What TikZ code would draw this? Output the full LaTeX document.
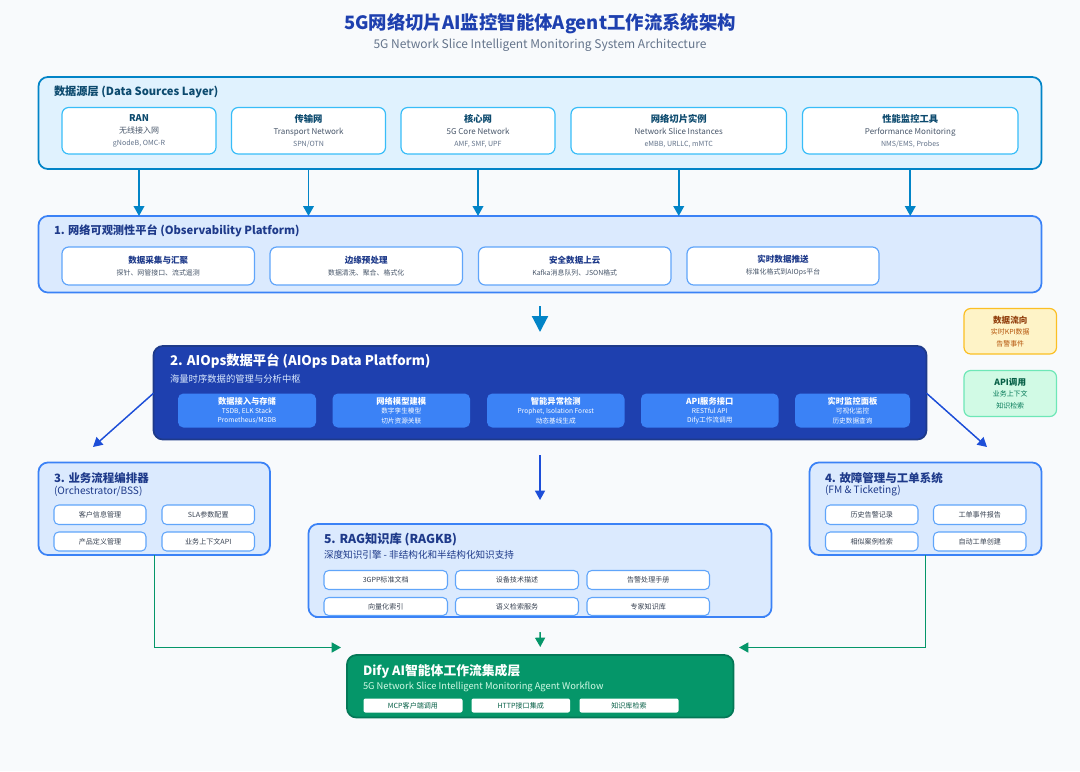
\documentclass[tikz,border=0pt]{standalone}
\usepackage{fontspec}
\setmainfont{Noto Sans CJK SC}
\usetikzlibrary{arrows.meta}
\definecolor{bgc}{HTML}{F8FAFC}
\definecolor{titleblue}{HTML}{1E40AF}
\definecolor{subgray}{HTML}{64748B}
\definecolor{dsfill}{HTML}{E0F2FE}
\definecolor{dsborder}{HTML}{0284C7}
\definecolor{dsinner}{HTML}{38BDF8}
\definecolor{dstext}{HTML}{0C4A6E}
\definecolor{bfill}{HTML}{DBEAFE}
\definecolor{bborder}{HTML}{3B82F6}
\definecolor{binner}{HTML}{60A5FA}
\definecolor{btext}{HTML}{1E3A8A}
\definecolor{aifill}{HTML}{1E40AF}
\definecolor{aiborder}{HTML}{1E3A8A}
\definecolor{aiinner}{HTML}{3B82F6}
\definecolor{aisub}{HTML}{DBEAFE}
\definecolor{darkgray}{HTML}{475569}
\definecolor{midgray}{HTML}{64748B}
\definecolor{boxtext}{HTML}{374151}
\definecolor{amberfill}{HTML}{FEF3C7}
\definecolor{amberborder}{HTML}{FBBF24}
\definecolor{ambertitle}{HTML}{92400E}
\definecolor{ambertext}{HTML}{B45309}
\definecolor{mintfill}{HTML}{D1FAE5}
\definecolor{mintborder}{HTML}{6EE7B7}
\definecolor{minttitle}{HTML}{065F46}
\definecolor{minttext}{HTML}{047857}
\definecolor{green}{HTML}{059669}
\definecolor{greendark}{HTML}{047857}
\definecolor{diflight}{HTML}{D1FAE5}
\definecolor{arrowblue}{HTML}{1D4ED8}
\newcommand{\fs}[2]{\fontsize{#1}{#2}\selectfont}
% \rbox{name}{x1}{y1}{x2}{y2}{style}{text}
\newcommand{\rbox}[7]{\node[#6, minimum width={(#4-#2)*0.75pt}, minimum height={(#5-#3)*0.75pt}] (#1) at ({(#2+#4)/2},{(#3+#5)/2}) {#7};}
\begin{document}
\begin{tikzpicture}[x=0.75pt,y=-0.75pt,
  container/.style={draw, rounded corners=7pt, line width=1.3pt, inner sep=0pt, outer sep=0pt},
  dslayer/.style={container, fill=dsfill, draw=dsborder},
  blayer/.style={container, fill=bfill, draw=bborder},
  ailayer/.style={container, fill=aifill, draw=aiborder},
  diflayer/.style={container, fill=green, draw=greendark},
  dsbox/.style={draw=dsinner, fill=white, rounded corners=5pt, line width=0.9pt, inner sep=0pt, align=center, font=\fs{6}{9}},
  obsbox/.style={draw=binner, fill=white, rounded corners=5pt, line width=0.9pt, inner sep=0pt, align=center, font=\fs{6}{9}},
  aibox/.style={fill=aiinner, rounded corners=4pt, inner sep=0pt, align=center, text=white, font=\fs{5}{6.9}},
  smallbox/.style={draw=binner, fill=white, rounded corners=3.5pt, line width=0.8pt, inner sep=0pt, align=center, text=boxtext, font=\fs{5.3}{7}},
  difbox/.style={fill=white, rounded corners=1.5pt, inner sep=0pt, align=center, text=minttitle, font=\fs{5.3}{7}},
  legamber/.style={draw=amberborder, fill=amberfill, rounded corners=5pt, line width=0.9pt, inner sep=0pt, align=center, font=\fs{5.2}{8.6}},
  legmint/.style={draw=mintborder, fill=mintfill, rounded corners=5pt, line width=0.9pt, inner sep=0pt, align=center, font=\fs{5.2}{8.6}},
  lbl/.style={inner sep=0pt, outer sep=0pt, anchor=west},
  skyarrow/.style={draw=dsborder, line width=1.3pt, -{Triangle[length=7.5pt,width=8pt]}},
  bluearrow/.style={draw=arrowblue, line width=1.1pt, -{Triangle[length=7pt,width=7.5pt]}},
  bigarrow/.style={draw=dsborder, line width=1.6pt, -{Triangle[length=12pt,width=12pt]}},
  greenarrow/.style={draw=green, line width=1.1pt, -{Triangle[length=7pt,width=7.5pt]}}
]
\fill[bgc] (0,0) rectangle (1080,771);
\useasboundingbox (0,0) rectangle (1080,771);

% ---------- Title ----------
\node[inner sep=0pt, text=titleblue, font=\fs{13.8}{16}\bfseries] (title) at (540,24) {5G网络切片AI监控智能体Agent工作流系统架构};
\node[inner sep=0pt, text=subgray, font=\fs{9}{11}] (subtitle) at (540,45.5) {5G Network Slice Intelligent Monitoring System Architecture};

% ---------- Data Sources Layer ----------
\rbox{dsl}{38.5}{77}{1041.5}{169}{dslayer}{}
\node[lbl, text=dstext, font=\fs{8.4}{10}\bfseries] (dsltitle) at (54,92) {数据源层 (Data Sources Layer)};
\rbox{ran}{62}{107.5}{216}{154}{dsbox}{{\fs{7}{9}\bfseries\color{dstext}RAN}\\{\fs{6}{9}\color{darkgray}无线接入网}\\{\fs{5.3}{9}\color{midgray}gNodeB, OMC-R}}
\rbox{trans}{231.5}{107.5}{385.5}{154}{dsbox}{{\fs{7}{9}\bfseries\color{dstext}传输网}\\{\fs{6}{9}\color{darkgray}Transport Network}\\{\fs{5.3}{9}\color{midgray}SPN/OTN}}
\rbox{core}{401}{107.5}{555}{154}{dsbox}{{\fs{7}{9}\bfseries\color{dstext}核心网}\\{\fs{6}{9}\color{darkgray}5G Core Network}\\{\fs{5.3}{9}\color{midgray}AMF, SMF, UPF}}
\rbox{slice}{571}{107.5}{786.5}{154}{dsbox}{{\fs{7}{9}\bfseries\color{dstext}网络切片实例}\\{\fs{6}{9}\color{darkgray}Network Slice Instances}\\{\fs{5.3}{9}\color{midgray}eMBB, URLLC, mMTC}}
\rbox{perf}{802.5}{107.5}{1018}{154}{dsbox}{{\fs{7}{9}\bfseries\color{dstext}性能监控工具}\\{\fs{6}{9}\color{darkgray}Performance Monitoring}\\{\fs{5.3}{9}\color{midgray}NMS/EMS, Probes}}

% ---------- Observability Platform ----------
\rbox{obs}{38.5}{216}{1041.5}{292.5}{blayer}{}
\node[lbl, text=btext, font=\fs{8.4}{10}\bfseries] (obstitle) at (54,231) {1. 网络可观测性平台 (Observability Platform)};
\rbox{obs1}{62}{247}{254.5}{285}{obsbox}{{\fs{6.4}{9}\bfseries\color{btext}数据采集与汇聚}\\{\fs{5.2}{9}\color{darkgray}探针、网管接口、流式遥测}}
\rbox{obs2}{270}{247}{462.5}{285}{obsbox}{{\fs{6.4}{9}\bfseries\color{btext}边缘预处理}\\{\fs{5.2}{9}\color{darkgray}数据清洗、聚合、格式化}}
\rbox{obs3}{478.5}{247}{671}{285}{obsbox}{{\fs{6.4}{9}\bfseries\color{btext}安全数据上云}\\{\fs{5.2}{9}\color{darkgray}Kafka消息队列、JSON格式}}
\rbox{obs4}{687}{247}{879}{285}{obsbox}{{\fs{6.4}{9}\bfseries\color{btext}实时数据推送}\\{\fs{5.2}{9}\color{darkgray}标准化格式到AIOps平台}}

% data source -> observability arrows
\draw[skyarrow] (ran.south |- dsl.south) -- (ran.south |- obs.north);
\draw[skyarrow] (trans.south |- dsl.south) -- (trans.south |- obs.north);
\draw[skyarrow] (core.south |- dsl.south) -- (core.south |- obs.north);
\draw[skyarrow] (slice.south |- dsl.south) -- (slice.south |- obs.north);
\draw[skyarrow] (perf.south |- dsl.south) -- (perf.south |- obs.north);

% ---------- AIOps Data Platform ----------
\rbox{aiops}{153.5}{346}{926.5}{439.5}{ailayer}{}
\node[lbl, text=white, font=\fs{10}{12}\bfseries] (aititle) at (170,361) {2. AIOps数据平台 (AIOps Data Platform)};
\node[lbl, text=aisub, font=\fs{7}{9}] (aisubtitle) at (170,379) {海量时序数据的管理与分析中枢};
\rbox{ai1}{178}{393.5}{316}{427.5}{aibox}{{\fs{6.2}{6.9}\bfseries 数据接入与存储}\\{\fs{5}{6.9}TSDB, ELK Stack}\\{\fs{5}{6.9}Prometheus/M3DB}}
\rbox{ai2}{332.5}{393.5}{470}{427.5}{aibox}{{\fs{6.2}{6.9}\bfseries 网络模型建模}\\{\fs{5}{6.9}数字孪生模型}\\{\fs{5}{6.9}切片资源关联}}
\rbox{ai3}{487}{393.5}{624.5}{427.5}{aibox}{{\fs{6.2}{6.9}\bfseries 智能异常检测}\\{\fs{5}{6.9}Prophet, Isolation Forest}\\{\fs{5}{6.9}动态基线生成}}
\rbox{ai4}{641}{393.5}{778.5}{427.5}{aibox}{{\fs{6.2}{6.9}\bfseries API服务接口}\\{\fs{5}{6.9}RESTful API}\\{\fs{5}{6.9}Dify工作流调用}}
\rbox{ai5}{795}{393.5}{910}{427.5}{aibox}{{\fs{6.2}{6.9}\bfseries 实时监控面板}\\{\fs{5}{6.9}可视化监控}\\{\fs{5}{6.9}历史数据查询}}

% big arrow obs -> aiops
\coordinate (bigstart) at (540,306);
\draw[bigarrow] (bigstart) -- ([yshift=10.5pt]aiops.north);

% ---------- Legends ----------
\rbox{legflow}{964}{308.5}{1056.5}{354}{legamber}{{\fs{6.4}{8.6}\bfseries\color{ambertitle}数据流向}\\{\fs{5.2}{8.6}\color{ambertext}实时KPI数据}\\{\fs{5.2}{8.6}\color{ambertext}告警事件}}
\rbox{legapi}{964}{370.5}{1056.5}{416.5}{legmint}{{\fs{6.4}{8.6}\bfseries\color{minttitle}API调用}\\{\fs{5.2}{8.6}\color{minttext}业务上下文}\\{\fs{5.2}{8.6}\color{minttext}知识检索}}

% ---------- Orchestrator ----------
\rbox{orch}{38.5}{462.5}{270}{555}{blayer}{}
\node[lbl, text=btext, font=\fs{8.6}{10}\bfseries] (orchtitle) at (54,478.5) {3. 业务流程编排器};
\node[lbl, text=btext, font=\fs{7.6}{9}] (orchsub) at (54,491) {(Orchestrator/BSS)};
\rbox{or1}{54}{505}{146}{524.5}{smallbox}{客户信息管理}
\rbox{or2}{162}{505}{254.5}{524.5}{smallbox}{SLA参数配置}
\rbox{or3}{54}{532}{146}{551}{smallbox}{产品定义管理}
\rbox{or4}{162}{532}{254.5}{551}{smallbox}{业务上下文API}

% ---------- Fault management ----------
\rbox{fm}{809.5}{462.5}{1041.5}{555}{blayer}{}
\node[lbl, text=btext, font=\fs{8.6}{10}\bfseries] (fmtitle) at (825,478.5) {4. 故障管理与工单系统};
\node[lbl, text=btext, font=\fs{7.6}{9}] (fmsub) at (825,491) {(FM \& Ticketing)};
\rbox{fm1}{825.5}{505}{918}{524.5}{smallbox}{历史告警记录}
\rbox{fm2}{933.5}{505}{1026}{524.5}{smallbox}{工单事件报告}
\rbox{fm3}{825.5}{532}{918}{551}{smallbox}{相似案例检索}
\rbox{fm4}{933.5}{532}{1026}{551}{smallbox}{自动工单创建}

% ---------- RAGKB ----------
\rbox{rag}{308.5}{524}{771.5}{617}{blayer}{}
\node[lbl, text=btext, font=\fs{9.2}{11}\bfseries] (ragtitle) at (324,539.5) {5. RAG知识库 (RAGKB)};
\node[lbl, text=btext, font=\fs{7.2}{9}] (ragsub) at (324,555) {深度知识引擎 - 非结构化和半结构化知识支持};
\rbox{rg1}{324}{570.5}{447.5}{589.5}{smallbox}{3GPP标准文档}
\rbox{rg2}{455.5}{570.5}{578.5}{589.5}{smallbox}{设备技术描述}
\rbox{rg3}{587}{570.5}{709.5}{589.5}{smallbox}{告警处理手册}
\rbox{rg4}{324}{597.5}{447.5}{615.5}{smallbox}{向量化索引}
\rbox{rg5}{455.5}{597.5}{578.5}{615.5}{smallbox}{语义检索服务}
\rbox{rg6}{587}{597.5}{709.5}{615.5}{smallbox}{专家知识库}
\draw[draw=bborder, line width=1.3pt] ([xshift=5pt]rag.south west) -- ([xshift=-5pt]rag.south east);

% aiops -> orchestrator / fm / rag
\draw[bluearrow] (aiops.west |- ai1.north) -- (93,447);
\draw[bluearrow] (aiops.east |- ai5.north) -- (987,447);
\coordinate (midstart) at (540,455);
\draw[bluearrow] (midstart) -- ([yshift=18pt]rag.north);

% ---------- Dify ----------
\rbox{dify}{347}{655}{733.5}{717.5}{diflayer}{}
\node[lbl, text=white, font=\fs{9.6}{11}\bfseries] (diftitle) at (363,671) {Dify AI智能体工作流集成层};
\node[lbl, text=diflight, font=\fs{7}{8}] (difsub) at (363,687) {5G Network Slice Intelligent Monitoring Agent Workflow};
\rbox{df1}{363.5}{698.5}{462.5}{712.5}{difbox}{MCP客户端调用}
\rbox{df2}{471.5}{698.5}{570}{712.5}{difbox}{HTTP接口集成}
\rbox{df3}{579.5}{698.5}{678.5}{712.5}{difbox}{知识库检索}

% green connectors
\coordinate (gl) at (341,647.5);
\coordinate (gr) at (739,647.5);
\draw[greenarrow] (orch.south) |- (gl);
\draw[greenarrow] (fm.south) |- (gr);
\coordinate (gm) at (540,632);
\draw[greenarrow] (gm) -- ([yshift=6pt]dify.north);
\end{tikzpicture}
\end{document}
